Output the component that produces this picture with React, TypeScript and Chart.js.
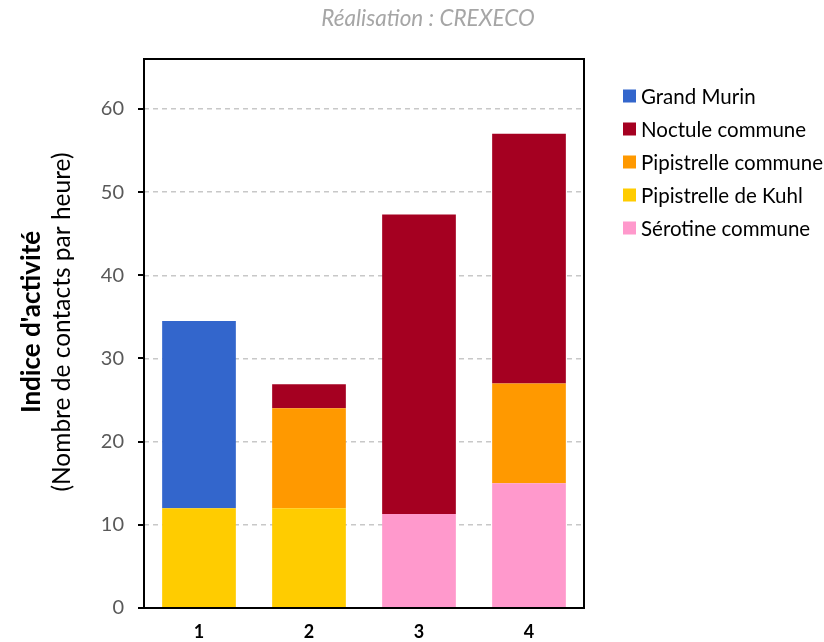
import React, { useEffect, useRef } from "react";
import { Chart, registerables } from "chart.js";

Chart.register(...registerables);

// Sites (x axis)
const sites = ["1", "2", "3", "4"];

// Activity index per species and site (contacts per hour)
const serotineCommune = [null, null, 11.3, 15];
const pipistrelleKuhl = [12, 12, null, null];
const pipistrelleCommune = [null, 12, null, 12];
const noctuleCommune = [null, 2.9, 36, 30];
const grandMurin = [22.5, null, null, null];

const yTicks = [0, 10, 20, 30, 40, 50, 60];
const yMax = 66;

const FONT = "Lato, 'Liberation Sans', sans-serif";

const framePlugin = {
  id: "frameAndLabels",
  afterDatasetsDraw(chart: any) {
    const { ctx, chartArea, scales } = chart;
    ctx.save();
    ctx.strokeStyle = "#000";
    ctx.lineWidth = 2;
    ctx.strokeRect(chartArea.left, chartArea.top, chartArea.right - chartArea.left, chartArea.bottom - chartArea.top);
    // outward tick marks on the value axis
    ctx.beginPath();
    yTicks.forEach((v) => {
      const y = Math.round(scales.y.getPixelForValue(v));
      ctx.moveTo(chartArea.left - 6, y);
      ctx.lineTo(chartArea.left, y);
    });
    ctx.stroke();
    ctx.restore();
  },
  afterDraw(chart: any) {
    const { ctx } = chart;
    ctx.save();
    // subtitle
    ctx.fillStyle = "#A6A6A6";
    ctx.font = `italic 22.5px ${FONT}`;
    ctx.textAlign = "center";
    ctx.textBaseline = "middle";
    ctx.fillText("Réalisation : CREXECO", 428, 19);

    // y axis title, two lines
    const cy = 322;
    ctx.fillStyle = "#000";
    ctx.translate(32, cy);
    ctx.rotate(-Math.PI / 2);
    ctx.font = `bold 26px ${FONT}`;
    ctx.fillText("Indice d'activité", 0, 0);
    ctx.rotate(Math.PI / 2);
    ctx.translate(30, 0);
    ctx.rotate(-Math.PI / 2);
    ctx.font = `24.5px ${FONT}`;
    ctx.fillText("(Nombre de contacts par heure)", 0, 0);
    ctx.restore();

    // legend, listed in reverse stacking order
    ctx.save();
    const ds = chart.data.datasets.slice().reverse();
    ctx.font = `20.5px ${FONT}`;
    ctx.textAlign = "left";
    ctx.textBaseline = "middle";
    ds.forEach((d: any, i: number) => {
      const y = 96 + i * 33;
      ctx.fillStyle = d.backgroundColor;
      ctx.fillRect(623, y - 6.5, 13, 13);
      ctx.fillStyle = "#000";
      ctx.fillText(d.label, 641, y + 1);
    });
    ctx.restore();
  },
};

export default function App() {
  const ref = useRef<HTMLCanvasElement>(null);

  useEffect(() => {
    if (!ref.current) return;
    const chart = new Chart(ref.current, {
      type: "bar",
      data: {
        labels: sites,
        datasets: [
          { label: "Sérotine commune", data: serotineCommune, backgroundColor: "#FF99CC" },
          { label: "Pipistrelle de Kuhl", data: pipistrelleKuhl, backgroundColor: "#FFCC00" },
          { label: "Pipistrelle commune", data: pipistrelleCommune, backgroundColor: "#FF9900" },
          { label: "Noctule commune", data: noctuleCommune, backgroundColor: "#A50021" },
          { label: "Grand Murin", data: grandMurin, backgroundColor: "#3366CC" },
        ],
      },
      options: {
        responsive: false,
        animation: false,
        layout: { padding: { top: 59, right: 240, left: 0, bottom: 0 } },
        datasets: {
          bar: { categoryPercentage: 1, barPercentage: 0.67, borderWidth: 0 },
        },
        plugins: {
          legend: { display: false },
          tooltip: { enabled: false },
          title: { display: false },
        },
        scales: {
          x: {
            stacked: true,
            grid: { display: false, drawTicks: false },
            border: { display: false },
            ticks: {
              color: "#000",
              font: { family: FONT, size: 18, weight: "bold" },
              padding: 13,
            },
            afterFit(scale: any) {
              scale.height = 34;
            },
          },
          y: {
            stacked: true,
            min: 0,
            max: yMax,
            afterBuildTicks(scale: any) {
              scale.ticks = yTicks.map((v) => ({ value: v }));
            },
            afterFit(scale: any) {
              scale.width = 144;
            },
            border: { display: false, dash: [5, 4] },
            grid: {
              color: "#C8C8C8",
              lineWidth: 1.5,
              drawTicks: false,
            },
            ticks: {
              color: "#595959",
              font: { family: FONT, size: 20 },
              padding: 20,
            },
          },
        },
      },
      plugins: [framePlugin],
    });
    return () => chart.destroy();
  }, []);

  return (
    <div style={{ position: "fixed", left: 0, top: 0, width: 824, height: 642, background: "#fff" }}>
      <canvas ref={ref} width={824} height={642} />
    </div>
  );
}
